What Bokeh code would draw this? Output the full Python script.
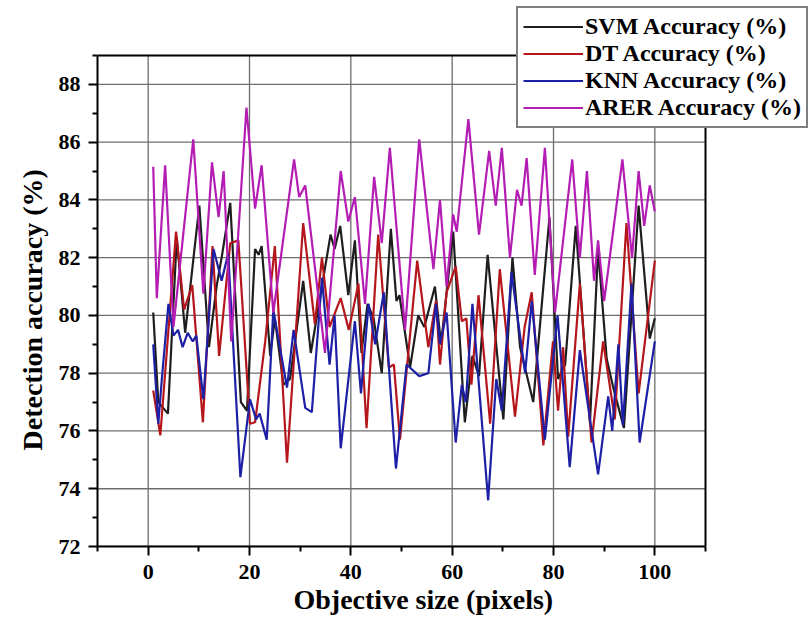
from bokeh.plotting import figure
from bokeh.models import (Range1d, FixedTicker, Legend, LegendItem, Title)
from bokeh.embed import file_html
from bokeh.resources import INLINE

# ---- data (extrema of each curve) ----
svm_x = [1, 2.0, 3.9, 5.65, 7.3, 10.1, 12.0, 13.5, 14.5, 16.2, 18.3, 19.5, 21.1, 21.8, 22.4,
         24.1, 25.0, 26.7, 28.0, 30.6, 32.1, 36.0, 36.8, 37.9, 39.5, 40.8, 42.1, 43.3, 44.5,
         46.1, 47.9, 49.0, 49.6, 51.7, 53.3, 54.5, 56.6, 57.8, 60.2, 62.5, 64.0, 65.3, 67.0,
         70.1, 71.9, 73.4, 76.0, 79.2, 80.9, 82.3, 84.4, 87.2, 88.8, 90.5, 91.8, 93.9, 96.8,
         99.0, 100]
svm_y = [80.1, 77.0, 76.6, 82.7, 79.4, 83.8, 78.9, 81.0, 82.0, 83.9, 77.0, 76.7, 82.3, 82.1, 82.4,
         78.6, 79.9, 77.6, 77.8, 81.2, 78.7, 82.8, 82.3, 83.1, 80.7, 82.6, 78.7, 80.4, 79.9,
         78.0, 83.0, 80.5, 80.7, 78.2, 80.0, 79.6, 81.0, 79.0, 82.9, 76.3, 78.6, 77.9, 82.1,
         76.4, 82.0, 78.9, 77.0, 83.4, 77.8, 78.3, 83.1, 76.3, 82.3, 78.5, 77.5, 76.1, 83.8,
         79.2, 79.9]

dt_x = [1, 2.4, 5.5, 7.1, 8.7, 10.8, 12.7, 14.0, 16.2, 17.8, 20.1, 21.1, 23.1, 25.0, 27.4,
        30.6, 32.9, 34.3, 35.8, 38.0, 39.6, 41.5, 43.1, 45.4, 47.5, 48.5, 49.7, 53.1, 55.3,
        56.8, 57.6, 58.9, 60.7, 61.9, 62.8, 63.8, 65.2, 67.5, 69.4, 72.4, 74.3, 75.7, 78.0,
        79.9, 80.9, 81.9, 82.9, 85.2, 87.5, 89.8, 92.1, 94.4, 96.8, 100]
dt_y = [77.4, 75.85, 82.9, 80.2, 81.05, 76.3, 82.4, 78.6, 82.5, 82.6, 76.25, 76.3, 79.1, 82.4, 74.9,
        83.2, 79.7, 82.0, 79.6, 80.6, 79.5, 81.1, 76.1, 82.8, 78.2, 78.3, 75.7, 81.9, 78.9,
        80.5, 78.3, 80.8, 81.7, 79.8, 79.9, 77.6, 80.7, 76.25, 81.6, 76.5, 79.6, 80.8, 75.5,
        79.1, 76.7, 78.9, 75.8, 81.1, 75.6, 79.1, 76.4, 83.2, 77.3, 81.9]

knn_x = [1, 2.0, 2.7, 4.0, 5.0, 5.9, 6.8, 7.8, 8.8, 9.5, 10.9, 12.9, 14.5, 15.8, 18.2, 20.1,
         21.3, 22.0, 23.4, 24.7, 27.4, 28.7, 31.0, 32.3, 34.3, 35.8, 36.8, 38.0, 40.8, 42.0,
         43.5, 44.8, 46.5, 48.9, 51.0, 53.5, 55.3, 56.8, 57.6, 58.9, 60.7, 61.9, 62.7, 64.0,
         67.1, 68.7, 69.8, 71.7, 74.4, 75.7, 78.3, 80.8, 83.2, 85.2, 88.8, 90.8, 91.6, 92.8,
         93.7, 95.4, 97.0, 100]
knn_y = [79.0, 76.25, 77.8, 80.4, 79.3, 79.5, 78.9, 79.4, 79.1, 79.3, 77.1, 82.3, 81.2, 82.15, 74.4, 77.1,
         76.4, 76.6, 75.7, 80.2, 77.5, 79.5, 76.8, 76.65, 81.3, 78.3, 80.0, 75.4, 79.8, 77.3,
         80.4, 79.0, 80.8, 74.7, 78.3, 77.9, 78.0, 80.4, 79.0, 80.1, 75.6, 77.6, 77.0, 80.4,
         73.6, 77.8, 76.7, 81.5, 78.0, 80.5, 75.7, 80.0, 74.75, 78.8, 74.5, 77.2, 76.0, 79.0,
         76.2, 81.1, 75.6, 79.1]

arer_x = [1, 1.7, 3.35, 5.0, 8.9, 10.9, 12.6, 13.9, 14.9, 16.4, 19.4, 21.1, 22.4, 24.7, 28.8,
          29.8, 31.0, 34.9, 38.0, 39.5, 40.8, 42.8, 44.6, 46.1, 47.7, 50.7, 53.5, 56.3, 57.6,
          58.9, 60.2, 60.9, 63.2, 65.3, 67.3, 68.6, 69.8, 71.4, 72.8, 73.7, 74.7, 76.3, 78.3,
          80.3, 83.7, 85.2, 86.6, 88.0, 88.8, 90.0, 93.6, 95.5, 96.8, 97.9, 99.0, 100]
arer_y = [85.15, 80.6, 85.2, 79.6, 86.1, 80.75, 85.3, 83.4, 85.0, 79.1, 87.2, 83.7, 85.2, 80.1, 85.4,
          84.1, 84.5, 78.7, 85.0, 83.25, 84.1, 80.4, 84.8, 82.5, 85.8, 79.5, 86.1, 81.6, 84.0,
          81.0, 83.5, 82.9, 86.8, 82.8, 85.7, 83.8, 85.8, 82.0, 84.35, 83.8, 85.45, 81.4, 85.8,
          80.1, 85.4, 82.0, 85.0, 81.2, 82.6, 80.5, 85.4, 82.0, 85.0, 83.1, 84.5, 83.6]

series_names = ["SVM Accuracy (%)", "DT Accuracy (%)", "KNN Accuracy (%)", "ARER Accuracy (%)"]
x_ticks = [0, 20, 40, 60, 80, 100]
x_minor = [-10, 10, 30, 50, 70, 90, 110]
y_ticks = [72, 74, 76, 78, 80, 82, 84, 86, 88]
y_minor = [73, 75, 77, 79, 81, 83, 85, 87, 89]
x_box = (-10, 110)
y_box = (72, 89)
x_title = "Objective size (pixels)"
y_title = "Detection accuracy (%)"

FONT = "Liberation Serif"

# frame spans to the canvas top/right so the legend may sit over the box edge
W, H = 808, 621
left, bottom = 97, 75
box_w, box_h = 608, 491
ppx = box_w / (x_box[1] - x_box[0])
ppy = box_h / (y_box[1] - y_box[0])
x_end = x_box[0] + (W - left) / ppx
y_end = y_box[0] + (H - bottom) / ppy

p = figure(width=W, height=H, output_backend="svg", toolbar_location=None,
           x_range=Range1d(x_box[0], x_end), y_range=Range1d(y_box[0], y_end),
           min_border_left=left, min_border_right=0, min_border_top=0, min_border_bottom=bottom)
p.background_fill_color = "white"
p.border_fill_color = "white"
p.outline_line_color = None
p.xgrid.visible = False
p.ygrid.visible = False

# grid lines restricted to the box
grid_c, grid_w = "#6e6e6e", 1.3
p.segment(x0=x_ticks, y0=[y_box[0]] * len(x_ticks), x1=x_ticks, y1=[y_box[1]] * len(x_ticks),
          line_color=grid_c, line_width=grid_w)
p.segment(x0=[x_box[0]] * len(y_ticks), y0=y_ticks, x1=[x_box[1]] * len(y_ticks), y1=y_ticks,
          line_color=grid_c, line_width=grid_w)
# top and right edges of the box
p.segment(x0=[x_box[0], x_box[1]], y0=[y_box[1], y_box[0]], x1=[x_box[1], x_box[1]], y1=[y_box[1], y_box[1]],
          line_color="black", line_width=2)

colors = ["#1e1e1e", "#b5161b", "#1d1fa6", "#b41db4"]
data = [(svm_x, svm_y), (dt_x, dt_y), (knn_x, knn_y), (arer_x, arer_y)]
renderers = []
for (xs, ys), c in zip(data, colors):
    r = p.line(xs, ys, line_color=c, line_width=2.2)
    renderers.append(r)

for ax, ticks, minor, bnd in ((p.xaxis[0], x_ticks, x_minor, x_box), (p.yaxis[0], y_ticks, y_minor, y_box)):
    ax.ticker = FixedTicker(ticks=ticks, minor_ticks=minor)
    ax.bounds = bnd
    ax.axis_line_width = 2
    ax.axis_line_color = "black"
    ax.major_tick_line_width = 2
    ax.minor_tick_line_width = 2
    ax.major_tick_out = 9
    ax.major_tick_in = 0
    ax.minor_tick_out = 5
    ax.minor_tick_in = 0
    ax.major_label_text_font = FONT
    ax.major_label_text_font_style = "bold"
    ax.major_label_text_font_size = "22px"
    ax.major_label_text_color = "black"

p.xaxis.major_label_standoff = 9
p.yaxis.major_label_standoff = 8

# axis titles (placed as panel titles so their position can be matched)
p.add_layout(Title(text=x_title, align="left", offset=196, standoff=0,
                   text_font=FONT, text_font_style="bold", text_font_size="28px",
                   text_color="black"), "below")
p.add_layout(Title(text=y_title, align="left", offset=96, standoff=15,
                   text_font=FONT, text_font_style="bold", text_font_size="28px",
                   text_color="black"), "left")

items = [LegendItem(label=n, renderers=[r]) for n, r in zip(series_names, renderers)]
legend = Legend(items=items, location=(419, 418), orientation="vertical",
                label_text_font=FONT, label_text_font_style="bold",
                label_text_font_size="24px", label_text_color="black",
                label_height=27, glyph_height=27, glyph_width=60, label_standoff=2,
                padding=5, spacing=0, margin=0,
                border_line_color="black", border_line_width=2,
                background_fill_color="white", background_fill_alpha=1.0)
p.add_layout(legend)

open("out.html", "w").write(file_html(p, INLINE))
